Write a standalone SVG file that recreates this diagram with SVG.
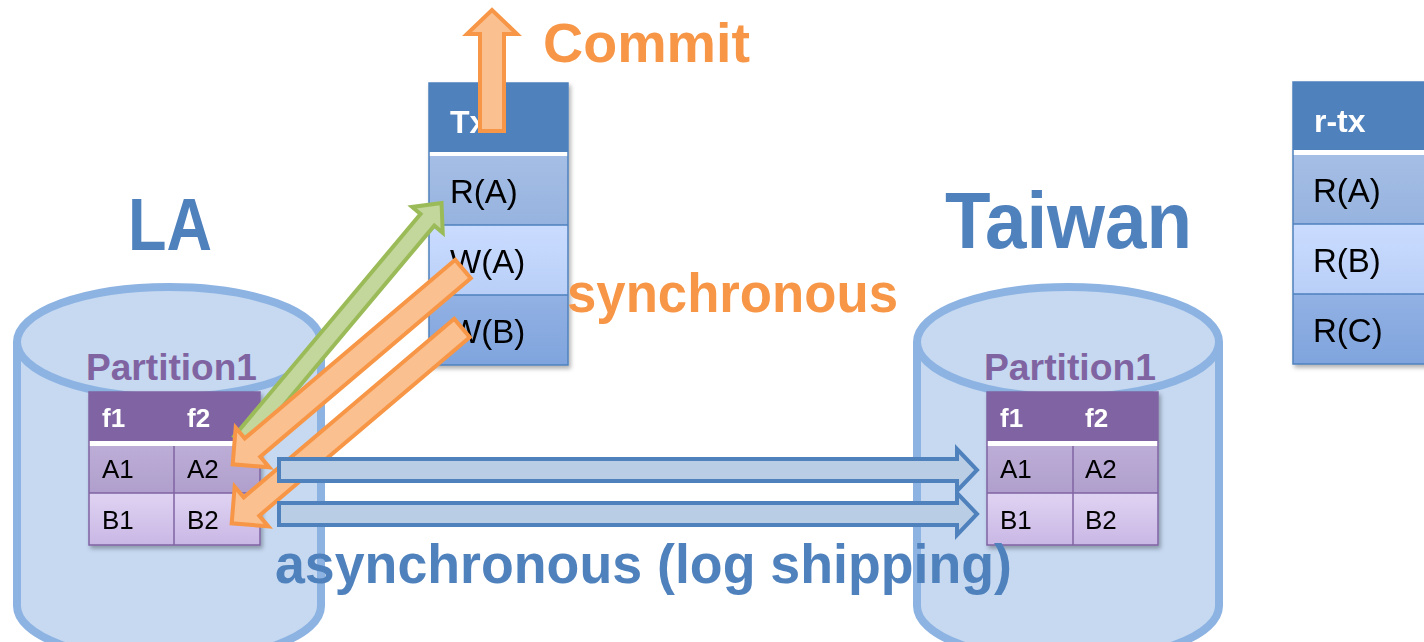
<svg xmlns="http://www.w3.org/2000/svg" width="1424" height="642" viewBox="0 0 1424 642">
  <style>
    .cyl { fill: #C6D9F1; stroke: #8DB3E2; stroke-width: 8; }
    .part { font-family: "Liberation Sans", Arial, sans-serif; font-weight: bold; font-size: 36px; fill: #8064A2; }
    .cell { font-family: "Liberation Sans", Arial, sans-serif; font-size: 26px; fill: #000; }
    .head { font-family: "Liberation Sans", Arial, sans-serif; font-weight: bold; font-size: 26px; fill: #fff; }
    .op { font-family: "Liberation Sans", Arial, sans-serif; font-size: 33px; fill: #000; }
    .ophead { font-family: "Liberation Sans", Arial, sans-serif; font-weight: bold; font-size: 32px; fill: #fff; }
    .site { font-family: "Liberation Sans", Arial, sans-serif; font-weight: bold; fill: #4F81BD; }
    .big { font-family: "Liberation Sans", Arial, sans-serif; font-weight: bold; font-size: 56px; }
    .pline { stroke: #8064A2; stroke-width: 1.5; fill: none; }
    .bline { stroke: #4F81BD; stroke-width: 1.5; fill: none; }
    .green { fill: #C3D69B; stroke: #9BBB59; stroke-width: 4; stroke-linejoin: miter; }
    .orange { fill: #FAC090; stroke: #F79646; stroke-width: 4; stroke-linejoin: miter; }
    .blue { fill: #B9CDE5; stroke: #4F81BD; stroke-width: 4; stroke-linejoin: miter; }
  </style>
  <defs>
    <filter id="shadow" x="-10%" y="-10%" width="130%" height="130%">
      <feDropShadow dx="2" dy="3" stdDeviation="2" flood-color="#000" flood-opacity="0.3"/>
    </filter>
    <linearGradient id="pRowA" x1="0" y1="0" x2="0" y2="1">
      <stop offset="0" stop-color="#BCADD7"/>
      <stop offset="1" stop-color="#B09FCC"/>
    </linearGradient>
    <linearGradient id="pRowB" x1="0" y1="0" x2="0" y2="1">
      <stop offset="0" stop-color="#DFD3F2"/>
      <stop offset="1" stop-color="#C9B7E5"/>
    </linearGradient>
    <linearGradient id="bRow1" x1="0" y1="0" x2="0" y2="1">
      <stop offset="0" stop-color="#A5BEE5"/>
      <stop offset="1" stop-color="#96B3DF"/>
    </linearGradient>
    <linearGradient id="bRow2" x1="0" y1="0" x2="0" y2="1">
      <stop offset="0" stop-color="#CADCFF"/>
      <stop offset="1" stop-color="#B9CFF7"/>
    </linearGradient>
    <linearGradient id="bRow3" x1="0" y1="0" x2="0" y2="1">
      <stop offset="0" stop-color="#92B1E4"/>
      <stop offset="1" stop-color="#7FA4DD"/>
    </linearGradient>
  </defs>

  <rect width="1424" height="642" fill="#fff"/>

  <!-- LA site: database cylinder with its partition -->
  <g id="la">
    <path class="cyl" d="M17,342 L17,606 A152,55 0 0 0 321,606 L321,342"/>
    <ellipse class="cyl" cx="169" cy="342" rx="152" ry="55"/>
    <text class="site" x="128" y="250" font-size="75" textLength="84" lengthAdjust="spacingAndGlyphs">LA</text>
    <text class="part" x="86" y="380" textLength="171" lengthAdjust="spacingAndGlyphs">Partition1</text>
  </g>

  <g id="la-partition" filter="url(#shadow)">
    <rect x="89" y="392" width="171" height="49" fill="#8064A2"/>
    <rect x="89" y="441" width="171" height="5" fill="#fff"/>
    <rect x="89" y="446" width="171" height="47" fill="url(#pRowA)"/>
    <rect x="89" y="493" width="171" height="52" fill="url(#pRowB)"/>
    <path class="pline" d="M89,392 H260 V545 H89 Z M89,493 H260 M174,446 V545"/>
    <text class="head" x="102" y="427">f1</text>
    <text class="head" x="187" y="427">f2</text>
    <text class="cell" x="102" y="478">A1</text>
    <text class="cell" x="187" y="478">A2</text>
    <text class="cell" x="102" y="529">B1</text>
    <text class="cell" x="187" y="529">B2</text>
  </g>

  <!-- Taiwan site: replica cylinder with its partition -->
  <g id="taiwan">
    <path class="cyl" d="M917,342 L917,606 A151,55 0 0 0 1219,606 L1219,342"/>
    <ellipse class="cyl" cx="1068" cy="342" rx="151" ry="55"/>
    <text class="site" x="945" y="248" font-size="80" textLength="247" lengthAdjust="spacingAndGlyphs">Taiwan</text>
    <text class="part" x="984" y="380" textLength="172" lengthAdjust="spacingAndGlyphs">Partition1</text>
  </g>

  <g id="taiwan-partition" filter="url(#shadow)">
    <rect x="987" y="392" width="171" height="49" fill="#8064A2"/>
    <rect x="987" y="441" width="171" height="5" fill="#fff"/>
    <rect x="987" y="446" width="171" height="47" fill="url(#pRowA)"/>
    <rect x="987" y="493" width="171" height="52" fill="url(#pRowB)"/>
    <path class="pline" d="M987,392 H1158 V545 H987 Z M987,493 H1158 M1073,446 V545"/>
    <text class="head" x="1000" y="427">f1</text>
    <text class="head" x="1085" y="427">f2</text>
    <text class="cell" x="1000" y="478">A1</text>
    <text class="cell" x="1085" y="478">A2</text>
    <text class="cell" x="1000" y="529">B1</text>
    <text class="cell" x="1085" y="529">B2</text>
  </g>

  <!-- Transaction at LA -->
  <g id="tx" filter="url(#shadow)">
    <rect x="429" y="83" width="139" height="69" fill="#4F81BD"/>
    <rect x="429" y="152" width="139" height="4" fill="#fff"/>
    <rect x="429" y="156" width="139" height="69" fill="url(#bRow1)"/>
    <rect x="429" y="225" width="139" height="70" fill="url(#bRow2)"/>
    <rect x="429" y="295" width="139" height="70" fill="url(#bRow3)"/>
    <path class="bline" d="M429,83 H568 V365 H429 Z M429,225 H568 M429,295 H568"/>
    <text class="ophead" x="450" y="133">Tx</text>
    <text class="op" x="450" y="203">R(A)</text>
    <text class="op" x="450" y="273">W(A)</text>
    <text class="op" x="450" y="343">W(B)</text>
  </g>

  <!-- Read-only transaction at Taiwan -->
  <g id="r-tx" filter="url(#shadow)">
    <rect x="1293" y="82" width="150" height="68" fill="#4F81BD"/>
    <rect x="1293" y="150" width="150" height="5" fill="#fff"/>
    <rect x="1293" y="155" width="150" height="69" fill="url(#bRow1)"/>
    <rect x="1293" y="224" width="150" height="70" fill="url(#bRow2)"/>
    <rect x="1293" y="294" width="150" height="70" fill="url(#bRow3)"/>
    <path class="bline" d="M1443,82 H1293 V364 H1443 M1293,224 H1443 M1293,294 H1443"/>
    <text class="ophead" x="1314" y="132">r-tx</text>
    <text class="op" x="1313" y="202">R(A)</text>
    <text class="op" x="1313" y="272">R(B)</text>
    <text class="op" x="1313" y="342">R(C)</text>
  </g>

  <!-- Connectors: read, synchronous writes, log shipping, commit -->
  <g id="connectors">
    <path class="green" transform="translate(241,442) rotate(-50)" d="M0,-9 L290,-9 L290,-20 L312,0 L290,20 L290,9 L0,9 Z"/>
    <path class="orange" transform="translate(463,269) rotate(139.7)" d="M0,-12 L276,-12 L276,-26 L302,0 L276,26 L276,12 L0,12 Z"/>
    <path class="orange" transform="translate(462,328) rotate(139.7)" d="M0,-12 L276,-12 L276,-26 L302,0 L276,26 L276,12 L0,12 Z"/>
    <path class="blue" d="M279,459 L957,459 L957,449 L977,470 L957,491 L957,481 L279,481 Z"/>
    <path class="blue" d="M279,503 L957,503 L957,493 L977,514 L957,535 L957,525 L279,525 Z"/>
    <path class="orange" d="M480,131 L480,34 L467,34 L492,10 L517,34 L504,34 L504,131 Z"/>
  </g>

  <!-- Connector labels -->
  <g id="labels">
    <text class="big" x="543" y="62" fill="#F79646" textLength="207" lengthAdjust="spacingAndGlyphs">Commit</text>
    <text class="big" x="567" y="312" fill="#F79646" textLength="331" lengthAdjust="spacingAndGlyphs">synchronous</text>
    <text class="big" x="275" y="583" fill="#4F81BD" textLength="737" lengthAdjust="spacingAndGlyphs">asynchronous (log shipping)</text>
  </g>
</svg>
